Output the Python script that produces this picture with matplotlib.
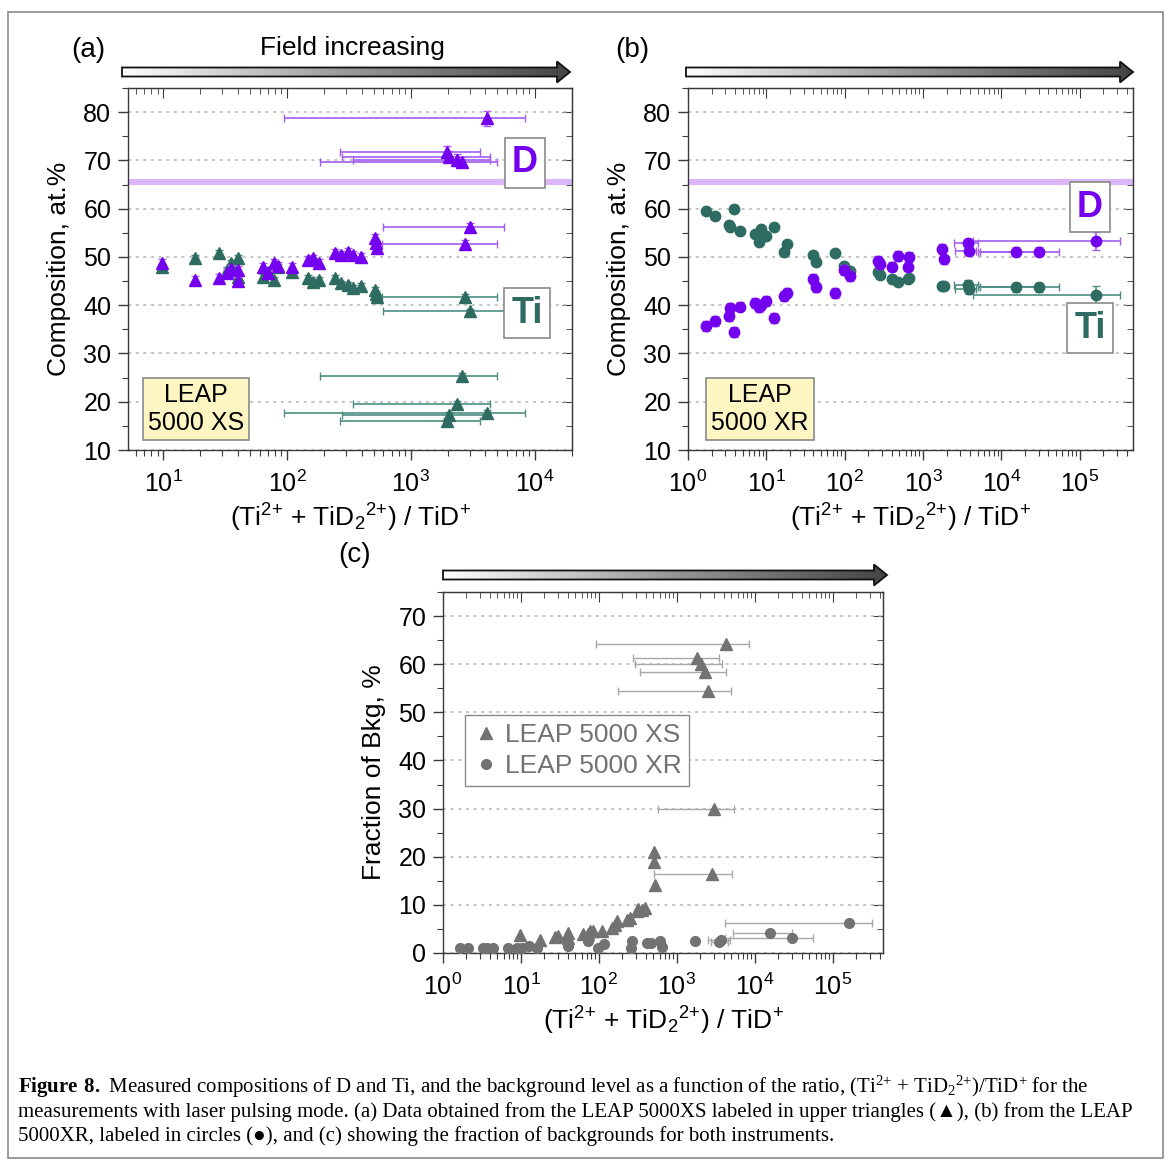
import numpy as np
import matplotlib
matplotlib.use('Agg')
import matplotlib.pyplot as plt
from matplotlib.patches import Polygon, Rectangle
from matplotlib.colors import LinearSegmentedColormap
from matplotlib.ticker import MultipleLocator, LogLocator, NullFormatter

plt.rcParams['font.family'] = ['Liberation Sans', 'DejaVu Sans']
plt.rcParams['mathtext.fontset'] = 'custom'
plt.rcParams['mathtext.default'] = 'regular'
plt.rcParams['mathtext.bf'] = 'Liberation Serif:bold'

PURPLE = '#7300ee'
PURPLE_E = '#a45cf2'
TEAL = '#2e6b60'
TEAL_E = '#4d8d82'
GREY = '#727272'
GREY_E = '#a8a8a8'

# ---- (a) LEAP 5000 XS, no x error bars ----
xs_x = [9.8, 18, 28, 33, 35, 40, 40, 64, 70, 78, 85, 109, 149, 163, 182,
        244, 275, 312, 343, 395, 515, 525, 535]
xs_d = [48.8, 45.2, 45.6, 46.7, 47.5, 47.3, 45.0, 48.0, 46.6, 48.7, 48.1, 48.0,
        49.4, 49.7, 48.7, 50.8, 50.4, 51.1, 50.4, 50.0, 53.9, 52.8, 51.8]
xs_ti = [48.0, 49.8, 50.8, 47.3, 48.7, 49.8, 45.9, 45.9, 46.9, 45.2, 48.0, 46.9,
         45.6, 44.9, 45.2, 45.6, 44.5, 44.2, 43.5, 44.0, 43.1, 42.4, 41.7]
# ---- (a) with x error bars (lo, hi = bar ends) ----
xse_x = [4100, 2350, 2050, 1950, 2570, 3000, 2750]
xse_d = [78.7, 70.1, 70.8, 71.8, 69.7, 56.3, 52.7]
xse_ti = [17.6, 19.6, 17.3, 16.1, 25.4, 38.7, 41.8]
xse_lo = [95, 340, 280, 270, 185, 600, 580]
xse_hi = [8300, 4350, 4350, 3600, 5000, 5600, 5000]
xse_yerr = [1.5, 1.2, 1.2, 1.2, 1.0, 0.8, 0.8]

# ---- (b) LEAP 5000 XR, no x error bars ----
xr_x = [1.72, 2.22, 3.29, 3.43, 3.89, 4.6, 7.2, 8.55, 9.9, 8.1, 12.4, 16.6, 18.2,
        39.3, 42.5, 74.6, 97, 116, 268, 282, 398, 483, 648, 660, 1740, 1850]
xr_ti = [59.6, 58.5, 56.6, 56.1, 59.9, 55.4, 54.7, 55.7, 54.4, 53.0, 56.1, 51.1, 52.6,
         50.4, 49.0, 50.8, 48.1, 47.1, 46.9, 46.3, 45.4, 44.9, 45.4, 45.6, 44.0, 44.0]
xr_d = [35.7, 36.7, 37.8, 39.4, 34.5, 39.7, 40.5, 40.0, 40.9, 39.6, 37.3, 41.9, 42.6,
        45.4, 43.8, 42.5, 47.3, 46.1, 49.2, 48.6, 48.0, 50.2, 48.0, 50.0, 51.6, 49.5]
# ---- (b) with x error bars ----
xre_x = [3800, 3900, 15400, 30000, 160000]
xre_d = [52.8, 51.3, 51.1, 51.1, 53.3]
xre_ti = [44.2, 43.3, 43.7, 43.7, 42.1]
xre_lo = [2500, 2600, 5000, 5400, 4400]
xre_hi = [5000, 4800, 30000, 55000, 330000]
xre_yerr = [1.0, 1.0, 1.0, 1.0, 1.8]

# ---- (c) fraction of background ----
bs_x = [510, 510, 530, 355, 320, 250, 230, 160, 170, 145, 108, 84, 77, 72, 63,
        40, 40, 30, 27, 17.5, 9.7, 305, 390]
bs_y = [20.9, 19.0, 14.2, 9.0, 9.2, 7.3, 6.9, 5.9, 6.6, 5.2, 4.5, 4.5, 4.5, 3.9, 3.9,
        4.2, 3.2, 3.5, 3.3, 2.8, 3.7, 8.7, 9.4]
bse_x = [4250, 1820, 2030, 2300, 2520, 2970, 2800]
bse_y = [64.3, 61.2, 60.0, 58.3, 54.5, 29.9, 16.5]
bse_lo = [92, 270, 290, 335, 178, 580, 510]
bse_hi = [8300, 3500, 3800, 4250, 4900, 5400, 5100]
br_x = [1.65, 2.1, 3.26, 3.7, 4.4, 6.8, 8.9, 10.4, 12.5, 16, 40, 73, 96, 115,
        268, 255, 410, 470, 610, 640, 1700]
br_y = [1.0, 1.0, 1.0, 1.0, 1.0, 1.0, 1.0, 1.0, 1.4, 1.0, 1.4, 2.5, 1.0, 1.8,
        2.5, 1.0, 2.1, 2.0, 2.5, 1.3, 2.5]
bre_x = [3700, 3500, 15500, 30000, 160000]
bre_y = [2.8, 2.3, 4.2, 3.2, 6.3]
bre_lo = [2500, 2700, 5300, 4150, 4150]
bre_hi = [4800, 4500, 30000, 55000, 320000]

D_BAND = (64.9, 66.2)
XLABEL = '(Ti$^{2{+}}$ + TiD$_{2}{}^{2{+}}$) / TiD$^{+}$'

W, H = 1171, 1165
fig = plt.figure(figsize=(W / 100, H / 100), dpi=100)


def px_axes(x0, y0, x1, y1):
    return fig.add_axes([x0 / W, 1 - y1 / H, (x1 - x0) / W, (y1 - y0) / H])


def xerr_of(x, lo, hi):
    x = np.array(x, float)
    return [x - np.array(lo, float), np.array(hi, float) - x]


def log_ticks(axis):
    axis.set_major_locator(LogLocator(base=10, numticks=30))
    axis.set_minor_locator(LogLocator(base=10, subs=np.arange(2, 10), numticks=30))
    axis.set_minor_formatter(NullFormatter())


def style(ax, ymin, ymax):
    ax.set_xscale('log')
    log_ticks(ax.xaxis)
    ax.set_ylim(ymin, ymax)
    ax.yaxis.set_major_locator(MultipleLocator(10))
    ax.yaxis.set_minor_locator(MultipleLocator(5))
    for s in ax.spines.values():
        s.set_color('#3a3a3a')
        s.set_linewidth(1.0)
    ax.tick_params(which='both', direction='out', labelsize=18, color='#3a3a3a')
    ax.tick_params(axis='x', pad=8)
    ax.tick_params(axis='y', pad=5)
    ax.tick_params(which='major', length=7, width=1)
    ax.tick_params(which='minor', length=4, width=0.8)
    ax.grid(axis='y', which='major', color='#b5b5b5', linestyle=(0, (2, 3)), linewidth=1.1)
    ax.set_axisbelow(True)
    top = ax.secondary_xaxis('top')
    log_ticks(top.xaxis)
    top.tick_params(which='both', direction='in', labeltop=False, color='#3a3a3a')
    top.tick_params(which='major', length=7)
    top.tick_params(which='minor', length=4)
    right = ax.secondary_yaxis('right')
    right.yaxis.set_major_locator(MultipleLocator(10))
    right.yaxis.set_minor_locator(MultipleLocator(5))
    right.tick_params(which='both', direction='in', labelright=False, color='#3a3a3a')
    right.tick_params(which='major', length=7)
    right.tick_params(which='minor', length=4)
    for s in list(top.spines.values()) + list(right.spines.values()):
        s.set_color('#3a3a3a')


def grad_arrow(x0, x1, yc):
    L = x1 - x0
    a = px_axes(x0 - 2, yc - 13, x1 + 2, yc + 13)
    a.set_xlim(-2, L + 2)
    a.set_ylim(-13, 13)
    a.axis('off')
    pts = [(0, -4.5), (L - 13, -4.5), (L - 13, -10.5), (L, 0), (L - 13, 10.5),
           (L - 13, 4.5), (0, 4.5)]
    poly = Polygon(pts, closed=True, facecolor='none', edgecolor='#111111', lw=1.3, zorder=3)
    a.add_patch(poly)
    cmap = LinearSegmentedColormap.from_list('g', ['#ffffff', '#9a9a9a', '#444444'])
    img = a.imshow(np.linspace(0, 1, 256)[None, :], cmap=cmap, aspect='auto',
                   extent=[0, L, -11, 11], zorder=2)
    img.set_clip_path(poly)


def box_label(ax, x, y, s, color, size, bold=True, face='white'):
    ax.text(x, y, s, transform=ax.transAxes, ha='center', va='center', fontsize=size,
            color=color, fontweight='bold' if bold else 'normal', linespacing=1.2,
            bbox=dict(boxstyle='square,pad=0.2', facecolor=face, edgecolor='#8a8a8a', lw=1.2),
            zorder=6)


# ---------------- (a) ----------------
axa = px_axes(128, 88, 572, 450)
style(axa, 10, 85)
axa.set_xlim(5.2, 20000)
axa.axhspan(*D_BAND, color='#dcb6f8', lw=0, zorder=1)
axa.errorbar(xse_x, xse_d, xerr=xerr_of(xse_x, xse_lo, xse_hi), yerr=xse_yerr, fmt='^',
             color=PURPLE, ecolor=PURPLE_E, ms=8, capsize=3, elinewidth=1.2, zorder=4)
axa.errorbar(xse_x, xse_ti, xerr=xerr_of(xse_x, xse_lo, xse_hi), yerr=0.6, fmt='^',
             color=TEAL, ecolor=TEAL_E, ms=8, capsize=3, elinewidth=1.2, zorder=4)
axa.errorbar(xs_x, xs_ti, yerr=0.6, fmt='^', color=TEAL, ecolor=TEAL_E, ms=8,
             capsize=3, elinewidth=1, zorder=4)
axa.errorbar(xs_x, xs_d, yerr=0.8, fmt='^', color=PURPLE, ecolor=PURPLE_E, ms=8,
             capsize=3, elinewidth=1, zorder=5)
box_label(axa, 0.894, 0.793, 'D', PURPLE, 26)
box_label(axa, 0.899, 0.378, 'Ti', TEAL, 26)
box_label(axa, 0.153, 0.113, 'LEAP\n5000 XS', 'black', 18, bold=False, face='#fdf6c3')
axa.set_ylabel('Composition, at.%', fontsize=19, labelpad=9)
axa.set_xlabel(XLABEL, fontsize=19, labelpad=3)

# ---------------- (b) ----------------
axb = px_axes(688, 88, 1133, 450)
style(axb, 10, 85)
axb.set_xlim(1, 4.8e5)
axb.axhspan(*D_BAND, color='#dcb6f8', lw=0, zorder=1)
axb.errorbar(xre_x, xre_ti, xerr=xerr_of(xre_x, xre_lo, xre_hi), yerr=xre_yerr, fmt='o',
             color=TEAL, ecolor=TEAL_E, ms=7.5, capsize=3, elinewidth=1.2, zorder=4)
axb.errorbar(xre_x, xre_d, xerr=xerr_of(xre_x, xre_lo, xre_hi), yerr=xre_yerr, fmt='o',
             color=PURPLE, ecolor=PURPLE_E, ms=7.5, capsize=3, elinewidth=1.2, zorder=4)
axb.errorbar(xr_x, xr_ti, fmt='o', color=TEAL, ms=7.5, zorder=4)
axb.errorbar(xr_x, xr_d, yerr=1.0, fmt='o', color=PURPLE, ecolor=PURPLE_E, ms=7.5,
             capsize=3, elinewidth=1, zorder=5)
box_label(axb, 0.903, 0.671, 'D', PURPLE, 26)
box_label(axb, 0.903, 0.337, 'Ti', TEAL, 26)
box_label(axb, 0.162, 0.113, 'LEAP\n5000 XR', 'black', 18, bold=False, face='#fdf6c3')
axb.set_ylabel('Composition, at.%', fontsize=19, labelpad=9)
axb.set_xlabel(XLABEL, fontsize=19, labelpad=3)

# ---------------- (c) ----------------
axc = px_axes(443, 592, 883, 953)
style(axc, 0, 75)
axc.set_xlim(1, 4.4e5)
axc.errorbar(bse_x, bse_y, xerr=xerr_of(bse_x, bse_lo, bse_hi), fmt='^', color=GREY,
             ecolor=GREY_E, ms=8, capsize=3, elinewidth=1, zorder=4)
axc.errorbar(bre_x, bre_y, xerr=xerr_of(bre_x, bre_lo, bre_hi), fmt='o', color=GREY,
             ecolor=GREY_E, ms=7, capsize=3, elinewidth=1, zorder=4)
axc.plot(bs_x, bs_y, '^', color=GREY, ms=8, zorder=4, label='LEAP 5000 XS')
axc.plot(br_x, br_y, 'o', color=GREY, ms=7, zorder=4, label='LEAP 5000 XR')
leg = axc.legend(loc='upper left', bbox_to_anchor=(0.02, 0.695), fontsize=19,
                 labelcolor=GREY, handletextpad=0.2, handlelength=1.0, borderpad=0.3,
                 labelspacing=0.25, fancybox=False, framealpha=1)
leg.get_frame().set_edgecolor('#8a8a8a')
axc.set_ylabel('Fraction of Bkg, %', fontsize=19, labelpad=9)
axc.set_xlabel(XLABEL, fontsize=19, labelpad=3)

# arrows and panel labels
grad_arrow(122, 570, 72)
grad_arrow(686, 1133, 72)
grad_arrow(443, 887, 575)
fig.text(352 / W, 1 - 48 / H, 'Field increasing', ha='center', va='center', fontsize=19)
fig.text(88 / W, 1 - 50 / H, '(a)', ha='center', va='center', fontsize=20)
fig.text(632 / W, 1 - 50 / H, '(b)', ha='center', va='center', fontsize=20)
fig.text(355 / W, 1 - 555 / H, '(c)', ha='center', va='center', fontsize=20)

# caption
cap = ['$\\mathbf{Figure\\ 8.}$ Measured compositions of D and Ti, and the background level as a '
       'function of the ratio, (Ti$^{2{+}}$ + TiD$_{2}{}^{2{+}}$)/TiD$^{+}$ for the',
       'measurements with laser pulsing mode. (a) Data obtained from the LEAP 5000XS labeled in '
       'upper triangles (\u25b2), (b) from the LEAP',
       '5000XR, labeled in circles (\u25cf), and (c) showing the fraction of backgrounds for both '
       'instruments.']
for i, line in enumerate(cap):
    fig.text(18 / W, 1 - (1093 + 24 * i) / H, line, ha='left', va='baseline', fontsize=15.0,
             family=['Liberation Serif', 'DejaVu Serif'])

fig.add_artist(Rectangle((8 / W, 1 - 1158 / H), 1155 / W, 1146 / H, transform=fig.transFigure,
                         fill=False, edgecolor='#8a8a8a', lw=1.2))

fig.savefig('out.png', dpi=100)
